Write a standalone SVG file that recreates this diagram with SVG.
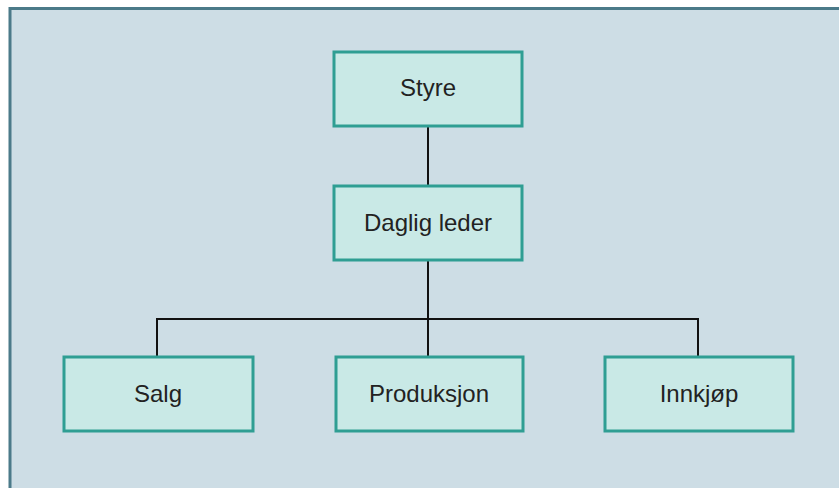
<svg xmlns="http://www.w3.org/2000/svg" width="839" height="488" viewBox="0 0 839 488">
  <style>
    .box { fill: #c9e9e6; stroke: #2f9e93; stroke-width: 3; }
    .lbl { font-family: "Liberation Sans", Arial, sans-serif; font-size: 24px; fill: #222; text-anchor: middle; }
    .wire { fill: none; stroke: #111; stroke-width: 2; }
  </style>
  <!-- background panel with dark top/left rule -->
  <rect x="0" y="0" width="839" height="488" fill="#ffffff"/>
  <rect x="9" y="8" width="830" height="480" fill="#cddde5"/>
  <path d="M10 488 V8.5 H839" fill="none" stroke="#4b7a89" stroke-width="3"/>

  <g id="connectors">
    <line class="wire" x1="428" y1="126" x2="428" y2="185"/>
    <line class="wire" x1="428" y1="260" x2="428" y2="356"/>
    <path class="wire" d="M157 356 V319 H698 V356"/>
  </g>

  <g id="styre">
    <rect class="box" x="334" y="52" width="188" height="74"/>
    <text class="lbl" x="428" y="96">Styre</text>
  </g>
  <g id="daglig-leder">
    <rect class="box" x="334" y="186" width="188" height="74"/>
    <text class="lbl" x="428" y="231">Daglig leder</text>
  </g>
  <g id="salg">
    <rect class="box" x="64" y="357" width="189" height="74"/>
    <text class="lbl" x="158" y="402">Salg</text>
  </g>
  <g id="produksjon">
    <rect class="box" x="336" y="357" width="187" height="74"/>
    <text class="lbl" x="429" y="402">Produksjon</text>
  </g>
  <g id="innkjop">
    <rect class="box" x="605" y="357" width="188" height="74"/>
    <text class="lbl" x="699" y="402">Innkjøp</text>
  </g>
</svg>
